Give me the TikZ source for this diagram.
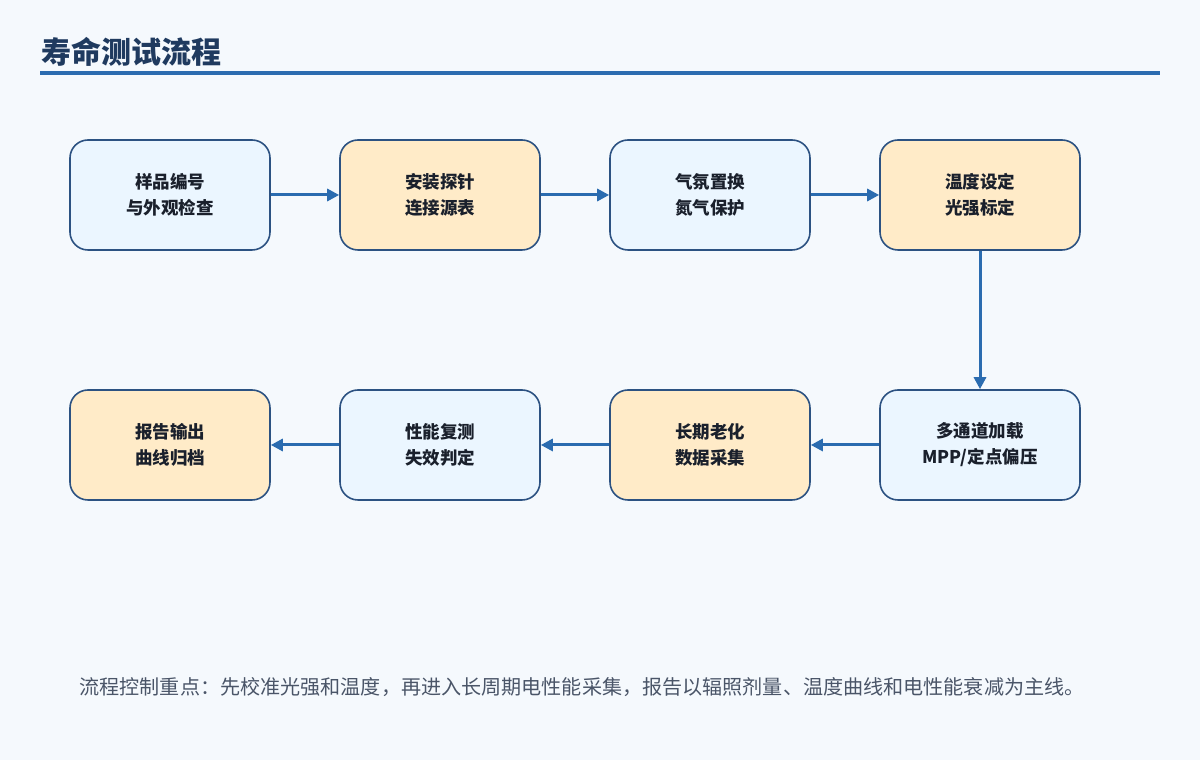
\documentclass[tikz,border=0pt]{standalone}
\usepackage{fontspec}
\setmainfont{Noto Sans CJK SC}
\usetikzlibrary{arrows.meta}
\definecolor{bg}{HTML}{F5F9FD}
\definecolor{titlec}{HTML}{1F3A5F}
\definecolor{rulec}{HTML}{2B6CB0}
\definecolor{edgec}{HTML}{2C5282}
\definecolor{fillb}{HTML}{EBF6FF}
\definecolor{fillo}{HTML}{FFEBC8}
\definecolor{txt}{HTML}{1A202C}
\definecolor{notec}{HTML}{4A5568}
\tikzset{
  x=1pt,y=1pt,
  box/.style={draw=edgec,line width=1.6pt,rounded corners=18pt,minimum width=200pt,minimum height=110pt,
    align=center,font=\fontsize{17.5}{26}\selectfont\bfseries,text=txt,inner sep=0pt},
  bluebox/.style={box,fill=fillb},
  orangebox/.style={box,fill=fillo},
  flow/.style={draw=rulec,line width=3pt,-{Triangle[length=12pt,width=12pt]}}
}
\begin{document}
\begin{tikzpicture}
\useasboundingbox (0,0) rectangle (1200,760);
\fill[bg] (0,0) rectangle (1200,760);
\node[anchor=west,font=\fontsize{30}{34}\selectfont\bfseries,text=titlec] (title) at (38,708) {寿命测试流程};
\fill[rulec] (40,685) rectangle (1160,689);
\node[bluebox] (n1) at (170,565) {样品编号\\与外观检查};
\node[orangebox] (n2) at (440,565) {安装探针\\连接源表};
\node[bluebox] (n3) at (710,565) {气氛置换\\氮气保护};
\node[orangebox] (n4) at (980,565) {温度设定\\光强标定};
\node[bluebox] (n5) at (980,315) {多通道加载\\MPP/定点偏压};
\node[orangebox] (n6) at (710,315) {长期老化\\数据采集};
\node[bluebox] (n7) at (440,315) {性能复测\\失效判定};
\node[orangebox] (n8) at (170,315) {报告输出\\曲线归档};
\draw[flow] (n1) -- (n2);
\draw[flow] (n2) -- (n3);
\draw[flow] (n3) -- (n4);
\draw[flow] (n4) -- (n5);
\draw[flow] (n5) -- (n6);
\draw[flow] (n6) -- (n7);
\draw[flow] (n7) -- (n8);
\node[anchor=west,font=\fontsize{20.1}{24}\selectfont,text=notec] (note) at (76,73) {流程控制重点：先校准光强和温度，再进入长周期电性能采集，报告以辐照剂量、温度曲线和电性能衰减为主线。};
\end{tikzpicture}
\end{document}
